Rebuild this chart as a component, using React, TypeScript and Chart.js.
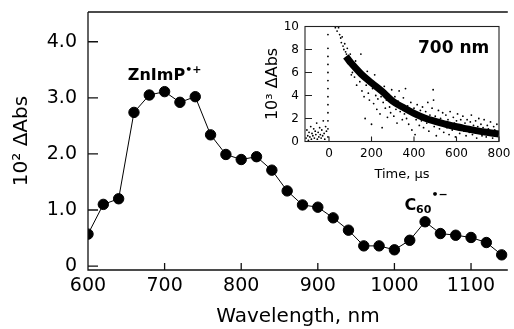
import React, { useEffect, useRef } from "react";
import { Chart, registerables } from "chart.js";

Chart.register(...registerables);

const FONT = "'DejaVu Sans', sans-serif";

// ---- Main spectrum ----
const wavelengthNm = [600, 620, 640, 660, 680, 700, 720, 740, 760, 780, 800, 820, 840, 860, 880, 900, 920, 940, 960, 980, 1000, 1020, 1040, 1060, 1080, 1100, 1120, 1140];
const deltaAbsE2 = [0.57, 1.1, 1.2, 2.74, 3.05, 3.11, 2.92, 3.02, 2.34, 1.99, 1.9, 1.95, 1.71, 1.34, 1.09, 1.05, 0.86, 0.64, 0.36, 0.36, 0.29, 0.46, 0.79, 0.58, 0.55, 0.51, 0.42, 0.2];
const mainXTicks = [600, 700, 800, 900, 1000, 1100];
const mainYTicks = [0, 1, 2, 3, 4];
const mainYTickLabels = ["0", "1.0", "2.0", "3.0", "4.0"];

// ---- Inset kinetic trace (700 nm) ----
const insetXTicks = [0, 200, 400, 600, 800];
const insetYTicks = [0, 2, 4, 6, 8, 10];

const baselineTrace: [number, number][] = [
  [-108, 0.3], [-104, 1.0], [-100, 0.5], [-97, 0.1], [-94, 0.8], [-90, 0.4], [-86, 1.3], [-83, 0.2],
  [-80, 0.7], [-76, 0.5], [-72, 1.1], [-69, 0.3], [-65, 0.9], [-62, 0.6], [-58, 1.6], [-55, 0.2],
  [-51, 0.8], [-48, 0.4], [-44, 1.2], [-41, 0.6], [-37, 0.3], [-34, 1.0], [-30, 0.5], [-27, 1.8],
  [-23, 0.7], [-20, 0.2], [-16, 1.3], [-12, 0.9],
];

const pulseTime = [-5, -5, -5, -5, -5, -5, -5, -5, -5, -5, -5, -5, -5];
const pulseSignal = [0.4, 1.1, 1.8, 2.5, 3.2, 3.9, 4.6, 5.3, 6.0, 6.7, 7.4, 8.1, 9.3];

const decayTrace: [number, number][] = [
  [30, 9.9], [38, 9.6], [45, 9.9], [50, 9.3], [55, 9.0], [58, 8.6], [62, 9.1], [66, 8.3], [70, 8.0],
  [74, 8.5], [78, 7.8], [82, 7.6], [86, 8.1], [90, 7.4], [95, 7.0], [100, 7.6], [105, 5.8], [110, 6.0],
  [120, 5.6], [125, 7.0], [130, 4.9], [140, 6.3], [145, 5.2], [150, 7.6], [155, 4.4], [160, 5.5],
  [165, 3.9], [170, 2.0], [175, 4.9], [180, 6.1], [185, 4.2], [190, 3.6], [195, 5.2], [200, 1.5],
  [205, 4.6], [210, 3.3], [215, 5.8], [220, 4.0], [225, 2.8], [230, 3.7], [235, 4.6], [240, 2.4],
  [245, 3.9], [250, 1.2], [255, 3.4], [260, 4.8], [265, 2.9], [270, 3.6], [275, 2.1], [280, 4.1],
  [285, 3.0], [290, 2.5], [295, 4.5], [300, 3.3], [305, 2.2], [310, 3.9], [315, 2.8], [320, 1.6],
  [325, 3.5], [330, 4.4], [335, 2.6], [340, 3.0], [345, 1.9], [350, 3.8], [355, 2.4], [360, 4.6],
  [365, 2.0], [370, 3.1], [375, 1.5], [380, 2.7], [385, 3.4], [390, 1.0], [395, 2.3], [400, 2.9],
  [405, 0.6], [410, 1.9], [415, 3.2], [420, 2.4], [425, 1.4], [430, 2.7], [435, 1.8], [440, 3.0],
  [445, 1.2], [450, 2.1], [455, 2.6], [460, 1.6], [465, 3.4], [470, 0.9], [475, 2.3], [480, 1.7],
  [485, 2.9], [490, 4.5], [492, 3.6], [495, 1.3], [500, 2.2], [505, 0.5], [510, 1.8], [515, 2.7],
  [520, 1.1], [525, 2.0], [530, 1.5], [535, 2.5], [540, 0.8], [545, 1.7], [550, 2.3], [555, 1.2],
  [560, 1.9], [565, 0.6], [570, 2.6], [575, 1.4], [580, 1.0], [585, 2.1], [590, 1.6], [595, 0.4],
  [600, 1.8], [605, 2.4], [610, 1.1], [615, 0.7], [620, 1.9], [625, 1.4], [630, 2.2], [635, 0.9],
  [640, 1.6], [645, 0.5], [650, 1.9], [655, 1.2], [660, 0.8], [665, 1.7], [670, 2.3], [675, 0.6],
  [680, 1.4], [685, 1.0], [690, 1.8], [695, 0.3], [700, 1.3], [705, 2.0], [710, 0.8], [715, 1.5],
  [720, 0.5], [725, 1.2], [730, 1.9], [735, 0.9], [740, 0.4], [745, 1.4], [750, 1.1], [755, 0.6],
  [760, 1.7], [765, 0.9], [770, 0.3], [775, 1.3], [780, 1.0], [785, 0.5], [790, 1.5], [795, 0.8],
];

const fitTime = [80, 100, 150, 200, 250, 300, 350, 400, 450, 500, 550, 600, 650, 700, 750, 800];
const fitSignal = [7.4, 6.9, 5.9, 5.1, 4.35, 3.5, 2.95, 2.45, 2.05, 1.75, 1.5, 1.28, 1.1, 0.92, 0.78, 0.66];

type Part = { t: string; font: string; dy?: number };
function drawRich(ctx: CanvasRenderingContext2D, x: number, y: number, parts: Part[]) {
  let cx = x;
  for (const p of parts) {
    ctx.font = p.font;
    ctx.fillText(p.t, cx, y + (p.dy || 0));
    cx += ctx.measureText(p.t).width;
  }
}

const noPad = (s: any) => {
  s.paddingLeft = 0;
  s.paddingRight = 0;
  s.paddingTop = 0;
  s.paddingBottom = 0;
};

export default function App() {
  const mainRef = useRef<HTMLCanvasElement>(null);
  const insetRef = useRef<HTMLCanvasElement>(null);

  useEffect(() => {
    document.body.style.margin = "0";
    const mainDecor = {
      id: "mainDecor",
      afterDraw(chart: any) {
        const { ctx, chartArea: a } = chart;
        const xs = chart.scales.x;
        const ys = chart.scales.y;
        ctx.save();
        ctx.strokeStyle = "#111";
        ctx.lineWidth = 1.3;
        ctx.beginPath();
        ctx.moveTo(a.left, a.top);
        ctx.lineTo(a.right, a.top);
        ctx.moveTo(a.left, a.top);
        ctx.lineTo(a.left, a.bottom);
        ctx.lineTo(a.right, a.bottom);
        for (const v of mainXTicks) {
          const p = xs.getPixelForValue(v);
          ctx.moveTo(p, a.bottom);
          ctx.lineTo(p, a.bottom - 7);
        }
        for (const v of mainYTicks) {
          const p = ys.getPixelForValue(v);
          ctx.moveTo(a.left, p);
          ctx.lineTo(a.left + 10, p);
        }
        ctx.stroke();
        ctx.fillStyle = "#000";
        ctx.textAlign = "left";
        ctx.textBaseline = "alphabetic";
        drawRich(ctx, xs.getPixelForValue(652), ys.getPixelForValue(3.317), [
          { t: "ZnImP", font: `bold 16px ${FONT}` },
          { t: "•+", font: `bold 11px ${FONT}`, dy: -7 },
        ]);
        drawRich(ctx, xs.getPixelForValue(1013), ys.getPixelForValue(1.0), [
          { t: "C", font: `bold 16px ${FONT}` },
          { t: "60", font: `bold 11px ${FONT}`, dy: 3 },
          { t: "•−", font: `bold 11px ${FONT}`, dy: -12 },
        ]);
        ctx.restore();
      },
    };

    const insetDecor = {
      id: "insetDecor",
      afterDraw(chart: any) {
        const { ctx, chartArea: a } = chart;
        const xs = chart.scales.x;
        const ys = chart.scales.y;
        ctx.save();
        ctx.strokeStyle = "#222";
        ctx.lineWidth = 1.1;
        ctx.strokeRect(a.left, a.top, a.right - a.left, a.bottom - a.top);
        ctx.beginPath();
        for (const v of insetXTicks) {
          const p = xs.getPixelForValue(v);
          ctx.moveTo(p, a.bottom);
          ctx.lineTo(p, a.bottom - 5);
        }
        for (const v of insetYTicks) {
          const p = ys.getPixelForValue(v);
          ctx.moveTo(a.left, p);
          ctx.lineTo(a.left + 7, p);
        }
        ctx.stroke();
        ctx.fillStyle = "#000";
        ctx.textAlign = "left";
        ctx.textBaseline = "alphabetic";
        drawRich(ctx, xs.getPixelForValue(419), ys.getPixelForValue(7.69), [
          { t: "700 nm", font: `bold 17px ${FONT}` },
        ]);
        ctx.restore();
      },
    };

    const main = new Chart(mainRef.current!, {
      type: "line",
      data: {
        datasets: [
          {
            data: wavelengthNm.map((x, i) => ({ x, y: deltaAbsE2[i] })),
            borderColor: "#000",
            backgroundColor: "#000",
            borderWidth: 1,
            pointRadius: 5.2,
            pointBackgroundColor: "#000",
            pointBorderColor: "#000",
            tension: 0,
          },
        ],
      },
      options: {
        responsive: false,
        animation: false,
        layout: { padding: { top: 12, right: 0, left: 0, bottom: 0 } },
        plugins: { legend: { display: false }, tooltip: { enabled: false } },
        scales: {
          x: {
            type: "linear",
            min: 600,
            max: 1148,
            grid: { display: false, drawTicks: false },
            border: { display: false },
            afterBuildTicks: (s: any) => { s.ticks = mainXTicks.map((value) => ({ value })); },
            afterFit: (s: any) => { s.height = 59; noPad(s); },
            ticks: {
              color: "#000",
              padding: 5,
              font: { family: FONT, size: 19 },
              callback: (v: any) => String(v),
            },
            title: {
              display: true,
              text: "Wavelength, nm",
              color: "#000",
              font: { family: FONT, size: 20 },
              padding: { top: 0, bottom: 0 },
            },
          },
          y: {
            type: "linear",
            min: -0.07,
            max: 4.53,
            grid: { display: false, drawTicks: false },
            border: { display: false },
            afterBuildTicks: (s: any) => { s.ticks = mainYTicks.map((value) => ({ value })); },
            afterFit: (s: any) => { s.width = 88; noPad(s); },
            ticks: {
              color: "#000",
              padding: 11,
              font: { family: FONT, size: 19 },
              callback: (v: any) => {
                const i = mainYTicks.indexOf(Number(v));
                return i >= 0 ? mainYTickLabels[i] : "";
              },
            },
            title: {
              display: true,
              text: "10² ΔAbs",
              color: "#000",
              font: { family: FONT, size: 20 },
              padding: { top: 10, bottom: 0 },
            },
          },
        },
      },
      plugins: [mainDecor],
    } as any);

    const inset = new Chart(insetRef.current!, {
      type: "scatter",
      data: {
        datasets: [
          {
            type: "line",
            data: fitTime.map((x, i) => ({ x, y: fitSignal[i] })),
            borderColor: "#000",
            borderWidth: 7,
            pointRadius: 0,
            tension: 0.4,
            borderCapStyle: "butt",
          },
          {
            data: baselineTrace.map(([x, y]) => ({ x, y })),
            pointRadius: 0.9,
            pointBackgroundColor: "#000",
            pointBorderWidth: 0,
          },
          {
            data: pulseTime.map((x, i) => ({ x, y: pulseSignal[i] })),
            pointRadius: 0.9,
            pointBackgroundColor: "#000",
            pointBorderWidth: 0,
          },
          {
            data: decayTrace.map(([x, y]) => ({ x, y })),
            pointRadius: 0.9,
            pointBackgroundColor: "#000",
            pointBorderWidth: 0,
          },
        ],
      },
      options: {
        responsive: false,
        animation: false,
        layout: { padding: { top: 11.5, right: 15, left: 0, bottom: 0 } },
        plugins: { legend: { display: false }, tooltip: { enabled: false } },
        scales: {
          x: {
            type: "linear",
            min: -113,
            max: 800,
            grid: { display: false, drawTicks: false },
            border: { display: false },
            afterBuildTicks: (s: any) => { s.ticks = insetXTicks.map((value) => ({ value })); },
            afterFit: (s: any) => { s.height = 43.5; noPad(s); },
            ticks: {
              color: "#000",
              padding: 5,
              font: { family: FONT, size: 12 },
              callback: (v: any) => String(v),
            },
            title: {
              display: true,
              text: "Time, μs",
              color: "#000",
              font: { family: FONT, size: 13 },
              padding: { top: 0, bottom: 3 },
            },
          },
          y: {
            type: "linear",
            min: 0,
            max: 10,
            grid: { display: false, drawTicks: false },
            border: { display: false },
            afterBuildTicks: (s: any) => { s.ticks = insetYTicks.map((value) => ({ value })); },
            afterFit: (s: any) => { s.width = 50; noPad(s); },
            ticks: {
              color: "#000",
              padding: 6,
              font: { family: FONT, size: 12 },
              callback: (v: any) => String(v),
            },
            title: {
              display: true,
              text: "10³ ΔAbs",
              color: "#000",
              font: { family: FONT, size: 16 },
              padding: { top: 8, bottom: 0 },
            },
          },
        },
      },
      plugins: [insetDecor],
    } as any);

    return () => {
      main.destroy();
      inset.destroy();
    };
  }, []);

  return (
    <div style={{ position: "relative", width: 514, height: 329, background: "#fff" }}>
      <canvas ref={mainRef} width={514} height={329} style={{ position: "absolute", left: 0, top: 0 }} />
      <canvas ref={insetRef} width={259} height={170} style={{ position: "absolute", left: 255, top: 15 }} />
    </div>
  );
}
